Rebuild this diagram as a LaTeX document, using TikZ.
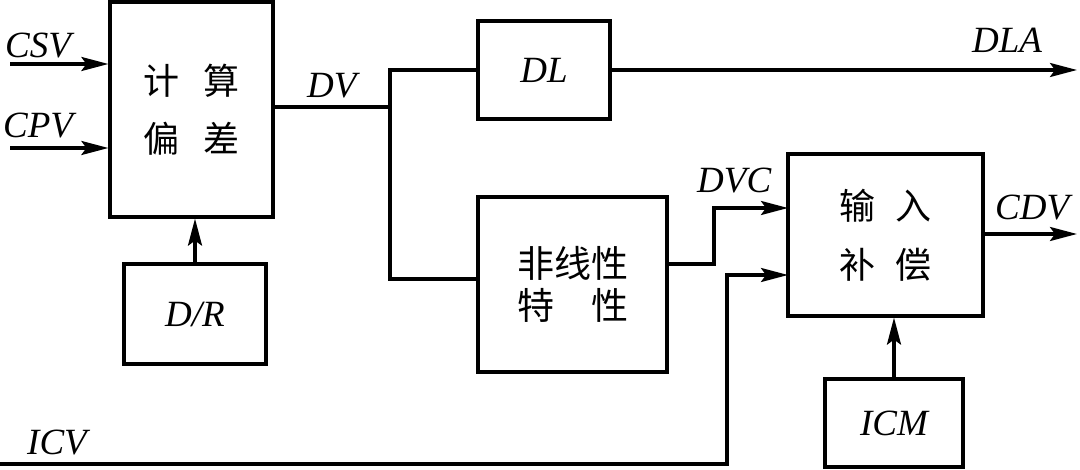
\documentclass[tikz,border=0pt]{standalone}
\usepackage{fontspec}
\setmainfont{Liberation Serif}
\newfontfamily\cjk{Noto Sans CJK SC}
\usetikzlibrary{arrows.meta}
\tikzset{
  blk/.style={draw, line width=3.2pt, inner sep=0pt},
  lab/.style={font=\fontsize{37}{37}\selectfont\itshape, inner sep=0pt, anchor=base west},
  boxlab/.style={font=\fontsize{37}{37}\selectfont\itshape},
  cn/.style={font=\cjk\fontsize{36}{58}\selectfont, align=center},
  wire/.style={line width=3.2pt},
  arr/.style={wire, -{Stealth[length=27pt,width=14pt,inset=5pt]}}
}
\begin{document}
\begin{tikzpicture}[x=1pt,y=-1pt]
\useasboundingbox (0,0) rectangle (1080,470);
% blocks
\node[blk, minimum width=163pt, minimum height=215pt, cn] (calc) at (191.5,109.5) {计\hspace{24pt}算\\偏\hspace{24pt}差};
\node[blk, minimum width=142pt, minimum height=100pt, boxlab] (dr) at (195,314) {D/R};
\node[blk, minimum width=132pt, minimum height=98pt, boxlab] (dl) at (544,70) {DL};
\node[blk, minimum width=189pt, minimum height=175pt, cn, font=\cjk\fontsize{37}{42}\selectfont] (nl) at (572.5,284.5) {非线性\\特\hspace{37pt}性};
\node[blk, minimum width=195pt, minimum height=162pt, cn, font=\cjk\fontsize{36}{59}\selectfont] (comp) at (885.5,235) {输\hspace{20pt}入\\补\hspace{20pt}偿};
\node[blk, minimum width=138pt, minimum height=88pt, boxlab] (icm) at (894,423) {ICM};
% coordinates
\coordinate (csv) at (10,64);
\coordinate (cpv) at (10,148);
\coordinate (dvj) at (390,107);
\coordinate (nlin) at (390,279);
\coordinate (dla) at (1077,70);
\coordinate (nlo) at (714,264);
\coordinate (dvcin) at (788,208);
\coordinate (icv) at (0,464);
\coordinate (icvup) at (727,464);
\coordinate (icvin) at (788,275);
\coordinate (cdv) at (1077,234);
% connectors
\draw[arr] (csv) -- (csv -| calc.west);
\draw[arr] (cpv) -- (cpv -| calc.west);
\draw[arr] (dr.north) -- (dr.north |- calc.south);
\draw[wire] (dvj -| calc.east) -- (dvj);
\draw[wire] (dl.west) -| (dvj);
\draw[wire] (dvj) -- (nlin) -- (nlin -| nl.west);
\draw[arr] (dl.east) -- (dla);
\draw[arr] (nlo -| nl.east) -- (nlo) |- (dvcin);
\draw[arr] (icv) -- (icvup) |- (icvin);
\draw[arr] (cdv -| comp.east) -- (cdv);
\draw[arr] (icm.north) -- (icm.north |- comp.south);
% labels
\node[lab] (lcsv) at (5,58) {CSV};
\node[lab] (lcpv) at (3,138) {CPV};
\node[lab] (ldv) at (307,98) {DV};
\node[lab] (ldla) at (972,53) {DLA};
\node[lab] (ldvc) at (697,193) {DVC};
\node[lab] (lcdv) at (995,220) {CDV};
\node[lab] (licv) at (27,455) {ICV};
\end{tikzpicture}
\end{document}
